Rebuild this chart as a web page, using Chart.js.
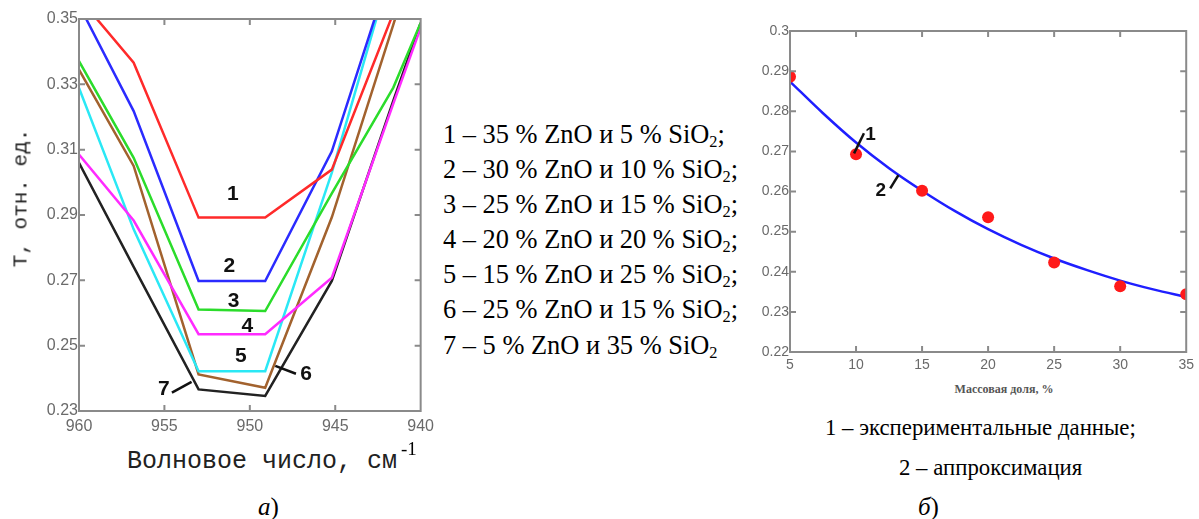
<!DOCTYPE html>
<html>
<head>
<meta charset="utf-8">
<script src="https://cdn.jsdelivr.net/npm/chart.js@4.4.1/dist/chart.umd.min.js"></script>
<style>
  body { margin: 0; width: 1199px; height: 519px; background: #fff; position: relative; overflow: hidden; }
  canvas { position: absolute; }
  .t { position: absolute; white-space: nowrap; color: #000; }
  .serif { font-family: 'Liberation Serif', 'Times New Roman', serif; }
  .mono { font-family: 'Liberation Mono', 'Courier New', monospace; color: #222; }
  #legend { left: 443px; top: 117px; font-size: 26.4px; line-height: 35.1px; }
  #legend sub { font-size: 0.62em; vertical-align: -0.22em; line-height: 0; }
</style>
</head>
<body>
<canvas id="chartWave" width="440" height="440" style="left:0;top:0"></canvas>
<canvas id="chartMass" width="459" height="380" style="left:740px;top:0"></canvas>

<div class="t mono" style="left:21px;top:198px;font-size:21px;transform:translate(-50%,-50%) rotate(-90deg)">Т, отн. ед.</div>
<div class="t mono" style="left:127px;top:447px;font-size:25px;line-height:30px">Волновое число, см</div>
<div class="t serif" style="left:401px;top:438px;font-size:19px;line-height:22px">-1</div>
<div class="t serif" style="left:258px;top:493px;font-size:25px;line-height:28px"><i>а</i>)</div>

<div id="legend" class="t serif">
  <div>1 – 35 % ZnO и 5 % SiO<sub>2</sub>;</div>
  <div>2 – 30 % ZnO и 10 % SiO<sub>2</sub>;</div>
  <div>3 – 25 % ZnO и 15 % SiO<sub>2</sub>;</div>
  <div>4 – 20 % ZnO и 20 % SiO<sub>2</sub>;</div>
  <div>5 – 15 % ZnO и 25 % SiO<sub>2</sub>;</div>
  <div>6 – 25 % ZnO и 15 % SiO<sub>2</sub>;</div>
  <div>7 – 5 % ZnO и 35 % SiO<sub>2</sub></div>
</div>

<div class="t serif" style="left:1004px;top:389px;font-size:12px;font-weight:bold;color:#555;transform:translate(-50%,-50%)">Массовая доля, %</div>
<div class="t serif" style="left:825px;top:414px;font-size:22.8px;line-height:28px">1 – экспериментальные данные;</div>
<div class="t serif" style="left:899px;top:454px;font-size:22.8px;line-height:28px">2 – аппроксимация</div>
<div class="t serif" style="left:918px;top:493px;font-size:25px;line-height:28px"><i>б</i>)</div>

<script>
// --- chart а): transmission vs wave number ---
var waveX = [960, 956.8, 953, 949.1, 945.2, 941.6, 940];
var wave1 = [0.3565, 0.3366, 0.2892, 0.2892, 0.3039, 0.3518, 0.3736];
var wave2 = [0.3543, 0.3218, 0.2698, 0.2698, 0.3095, 0.3677, 0.3926];
var wave3 = [0.3371, 0.3075, 0.2611, 0.2606, 0.2966, 0.3290, 0.3488];
var wave4 = [0.3085, 0.2883, 0.2535, 0.2535, 0.2708, 0.3241, 0.3473];
var wave5 = [0.3289, 0.2856, 0.2422, 0.2422, 0.3030, 0.3679, 0.3971];
var wave6 = [0.3345, 0.3050, 0.2412, 0.2371, 0.2893, 0.3483, 0.3748];
var wave7 = [0.3060, 0.2741, 0.2366, 0.2346, 0.2698, 0.3250, 0.3488];
var waveXTicks = [960, 955, 950, 945, 940];
var waveYTicks = [0.23, 0.25, 0.27, 0.29, 0.31, 0.33, 0.35];

// --- chart б): transmission vs mass fraction ---
var massX = [5, 10, 15, 20, 25, 30, 35];
var massT = [0.2886, 0.2693, 0.2602, 0.2536, 0.2423, 0.2364, 0.2344];
var fitX = [5, 7.5, 10, 12.5, 15, 17.5, 20, 22.5, 25, 27.5, 30, 32.5, 35];
var fitT = [0.2874, 0.2795, 0.2722, 0.2658, 0.2602, 0.2551, 0.2506, 0.2467, 0.2433, 0.2404, 0.2378, 0.2356, 0.2337];
var massXTicks = [5, 10, 15, 20, 25, 30, 35];
var massYTicks = [0.22, 0.23, 0.24, 0.25, 0.26, 0.27, 0.28, 0.29, 0.3];

var tickFont = "'Liberation Sans Narrow', 'Liberation Sans', Arial, sans-serif";

function pts(xs, ys) {
  return xs.map(function(x, i) { return { x: x, y: ys[i] }; });
}

function useTicks(arr) {
  return function(scale) { scale.ticks = arr.map(function(v) { return { value: v }; }); };
}

// MathCad-like frame with inward tick marks on all four sides
var frameTicks = {
  id: 'frameTicks',
  afterDatasetsDraw: function(chart) {
    var a = chart.chartArea, ctx = chart.ctx;
    var xs = chart.scales.x, ys = chart.scales.y, len = 6;
    ctx.save();
    ctx.strokeStyle = '#8a8a8a';
    ctx.lineWidth = 2;
    ctx.beginPath();
    xs.ticks.forEach(function(t) {
      var p = xs.getPixelForValue(t.value);
      if (p < a.left + 3 || p > a.right - 3) return;
      ctx.moveTo(p, a.top); ctx.lineTo(p, a.top + len);
      ctx.moveTo(p, a.bottom); ctx.lineTo(p, a.bottom - len);
    });
    ys.ticks.forEach(function(t) {
      var p = ys.getPixelForValue(t.value);
      if (p < a.top + 3 || p > a.bottom - 3) return;
      ctx.moveTo(a.left, p); ctx.lineTo(a.left + len, p);
      ctx.moveTo(a.right, p); ctx.lineTo(a.right - len, p);
    });
    ctx.stroke();
    ctx.strokeRect(a.left, a.top, a.right - a.left, a.bottom - a.top);
    ctx.restore();
  }
};

// numbered curve labels with short leader lines, placed in data units
var callouts = {
  id: 'callouts',
  afterDraw: function(chart, args, opts) {
    var ctx = chart.ctx, xs = chart.scales.x, ys = chart.scales.y;
    ctx.save();
    ctx.fillStyle = '#111';
    ctx.strokeStyle = '#111';
    ctx.lineWidth = 2.5;
    ctx.font = opts.font;
    ctx.textAlign = 'center';
    ctx.textBaseline = 'middle';
    (opts.labels || []).forEach(function(l) {
      ctx.fillText(l[0], xs.getPixelForValue(l[1]), ys.getPixelForValue(l[2]));
    });
    (opts.leaders || []).forEach(function(l) {
      ctx.beginPath();
      ctx.moveTo(xs.getPixelForValue(l[0]), ys.getPixelForValue(l[1]));
      ctx.lineTo(xs.getPixelForValue(l[2]), ys.getPixelForValue(l[3]));
      ctx.stroke();
    });
    ctx.restore();
  }
};

function lineSet(ys, color) {
  return { data: pts(waveX, ys), borderColor: color, borderWidth: 2.5, pointRadius: 0, tension: 0, clip: 0, fill: false };
}

new Chart(document.getElementById('chartWave'), {
  type: 'line',
  data: {
    datasets: [
      lineSet(wave1, '#ff2a2a'),
      lineSet(wave2, '#2b2bff'),
      lineSet(wave3, '#2bdc2b'),
      lineSet(wave4, '#ff2bff'),
      lineSet(wave5, '#2ae8f5'),
      lineSet(wave6, '#a2622e'),
      lineSet(wave7, '#222222')
    ]
  },
  options: {
    responsive: false, animation: false,
    layout: { padding: { left: 0, top: 19, right: 14, bottom: 0 } },
    plugins: {
      legend: { display: false }, tooltip: { enabled: false },
      callouts: {
        font: "bold 21px 'Liberation Sans', Arial, sans-serif",
        labels: [['1', 951.0, 0.2963], ['2', 951.2, 0.2744], ['3', 950.95, 0.2636], ['4', 950.14, 0.2560],
                 ['5', 950.53, 0.2468], ['6', 946.7, 0.2412], ['7', 955.04, 0.2366]],
        leaders: [[954.56, 0.2356, 953.41, 0.2389], [948.51, 0.2438, 947.3, 0.2414]]
      }
    },
    scales: {
      x: {
        type: 'linear', min: 940, max: 960, reverse: true,
        afterBuildTicks: useTicks(waveXTicks),
        afterFit: function(s) { s.height = 29; },
        grid: { display: false, drawTicks: false }, border: { display: false },
        ticks: { padding: 6, color: '#6a6a6a', font: { family: tickFont, size: 16 }, callback: function(v) { return String(v); } }
      },
      y: {
        min: 0.23, max: 0.35,
        afterBuildTicks: useTicks(waveYTicks),
        afterFit: function(s) { s.width = 79; },
        grid: { display: false, drawTicks: false }, border: { display: false },
        ticks: { padding: 1, color: '#6a6a6a', font: { family: tickFont, size: 16 }, callback: function(v) { return v.toFixed(2); } }
      }
    }
  },
  plugins: [frameTicks, callouts]
});

new Chart(document.getElementById('chartMass'), {
  type: 'line',
  data: {
    datasets: [
      { type: 'scatter', data: pts(massX, massT), showLine: false, pointRadius: 6, pointBackgroundColor: '#ff1a1a', pointBorderWidth: 0, clip: 0 },
      { data: pts(fitX, fitT), borderColor: '#1f1fff', borderWidth: 2.5, pointRadius: 0, cubicInterpolationMode: 'monotone', clip: 0, fill: false }
    ]
  },
  options: {
    responsive: false, animation: false,
    layout: { padding: { left: 0, top: 31, right: 7, bottom: 0 } },
    plugins: {
      legend: { display: false }, tooltip: { enabled: false },
      callouts: {
        font: "bold 19px 'Liberation Sans', Arial, sans-serif",
        labels: [['1', 11.1, 0.2741], ['2', 11.87, 0.2601]],
        leaders: [[9.85, 0.2695, 10.6, 0.2745], [12.59, 0.2608, 13.21, 0.2641]]
      }
    },
    scales: {
      x: {
        type: 'linear', min: 5, max: 35,
        afterBuildTicks: useTicks(massXTicks),
        afterFit: function(s) { s.height = 28; },
        grid: { display: false, drawTicks: false }, border: { display: false },
        ticks: { padding: 5, color: '#6a6a6a', font: { family: tickFont, size: 14 }, callback: function(v) { return String(v); } }
      },
      y: {
        min: 0.22, max: 0.3,
        afterBuildTicks: useTicks(massYTicks),
        afterFit: function(s) { s.width = 50; },
        grid: { display: false, drawTicks: false }, border: { display: false },
        ticks: { padding: 1, color: '#6a6a6a', font: { family: tickFont, size: 14 }, callback: function(v) { return String(Number(v.toFixed(2))); } }
      }
    }
  },
  plugins: [frameTicks, callouts]
});
</script>
</body>
</html>
